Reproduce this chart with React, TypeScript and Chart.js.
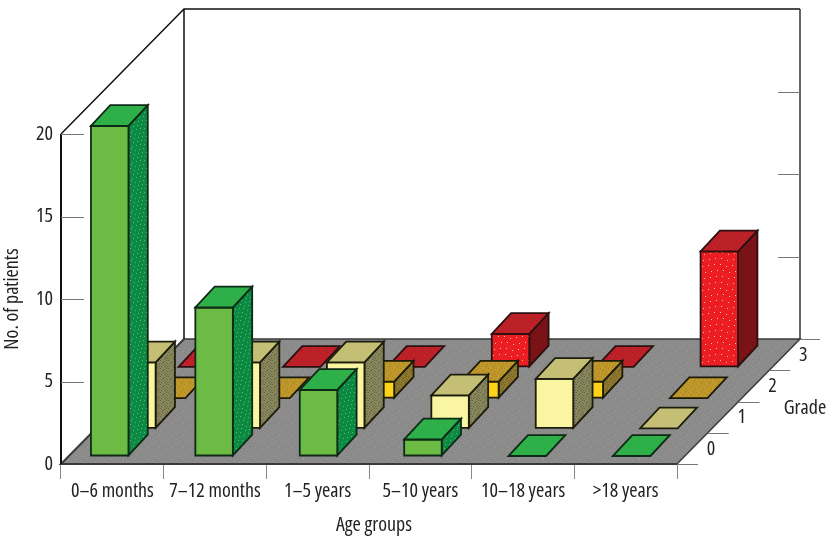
import React, { useEffect, useRef } from "react";
import { Chart, BarController, BarElement, CategoryScale, LinearScale } from "chart.js";

const AGE_GROUPS = ["0–6 months", "7–12 months", "1–5 years", "5–10 years", "10–18 years", ">18 years"];
const GRADE_TICKS = ["0", "1", "2", "3"];
const VALUE_TICKS = [0, 5, 10, 15, 20];
const GRADE_ROWS = [0, 0.93, 1.95, 3];
const GRADE_0 = [20, 9, 4, 1, 0, 0];
const GRADE_1 = [4, 4, 4, 2, 3, 0];
const GRADE_2 = [0, 0, 1, 1, 1, 0];
const GRADE_3 = [0, 0, 0, 2, 0, 7];

const FAMILY = '"Open Sans", sans-serif';
const CANVAS_FONT = `condensed 20px ${FAMILY}`;
const tickFont = { family: FAMILY, size: 20, weight: "condensed" };
const TEXT = "#222222";
const FLOOR_RISE = 125;
const FLOOR_RUN = 123;
const RUN_PER_RISE = 0.984;
const BAR_DEPTH_RUN = 0.93;
const BAR_DEPTH_GRADES = 0.7;

function speckle(base: string, dot: string, step: number) {
  const c = document.createElement("canvas");
  c.width = step * 4;
  c.height = step * 4;
  const g = c.getContext("2d")!;
  g.fillStyle = base;
  g.fillRect(0, 0, c.width, c.height);
  g.fillStyle = dot;
  for (let i = 0; i < 4; i++) {
    for (let j = 0; j < 4; j++) {
      g.fillRect(i * step + ((j * 3) % 4), j * step + ((i * 2) % 3), 1, 1);
    }
  }
  return g.createPattern(c, "repeat")!;
}

class Bar3DController extends BarController {
  static id = "bar3d";
  static defaults = { ...BarController.defaults };
  draw() {
    const chart = (this as any).chart;
    const ctx = chart.ctx;
    const meta = (this as any).getMeta();
    const ds = (this as any).getDataset();
    const gradeScale = chart.scales.grade;
    const bottom = chart.chartArea.bottom;
    const rise = bottom - gradeScale.getPixelForValue(ds.grade);
    const backRise = bottom - gradeScale.getPixelForValue(ds.grade + BAR_DEPTH_GRADES);
    const dy = backRise - rise;
    const dx = dy * BAR_DEPTH_RUN;
    const shift = rise * RUN_PER_RISE;
    const faces = ds.faces();
    ctx.save();
    ctx.lineWidth = 1.8;
    ctx.lineJoin = "miter";
    ctx.strokeStyle = ds.edge;
    const poly = (pts: number[][], fill: any) => {
      ctx.beginPath();
      pts.forEach((p, i) => (i ? ctx.lineTo(p[0], p[1]) : ctx.moveTo(p[0], p[1])));
      ctx.closePath();
      ctx.fillStyle = fill;
      ctx.fill();
      ctx.stroke();
    };
    meta.data.forEach((el: any) => {
      const l = el.x - el.width / 2 + shift;
      const r = l + el.width;
      const t = el.y - rise;
      const b = el.base - rise;
      if (b - t > 0.5) {
        poly([[r, t], [r + dx, t - dy], [r + dx, b - dy], [r, b]], faces.side);
        poly([[l, t], [r, t], [r, b], [l, b]], faces.front);
      }
      poly([[l, t], [l + dx, t - dy], [r + dx, t - dy], [r, t]], faces.top);
    });
    ctx.restore();
  }
}

const framePlugin = {
  id: "frame3d",
  beforeDatasetsDraw(chart: any) {
    const { ctx, chartArea: a, scales } = chart;
    const L = a.left, R = a.right, B = a.bottom;
    const y20 = scales.y.getPixelForValue(20);
    const topBack = y20 - FLOOR_RISE;
    ctx.save();
    // floor
    ctx.beginPath();
    ctx.moveTo(L, B);
    ctx.lineTo(R, B);
    ctx.lineTo(R + FLOOR_RUN, B - FLOOR_RISE);
    ctx.lineTo(L + FLOOR_RUN, B - FLOOR_RISE);
    ctx.closePath();
    ctx.fillStyle = speckle("#8a8a8a", "#9c9792", 3);
    ctx.fill();
    // floor edges
    ctx.strokeStyle = "#3a3a3a";
    ctx.lineWidth = 1.5;
    ctx.beginPath();
    ctx.moveTo(L + FLOOR_RUN, B - FLOOR_RISE);
    ctx.lineTo(R + FLOOR_RUN, B - FLOOR_RISE);
    ctx.lineTo(R, B);
    ctx.stroke();
    ctx.lineWidth = 2;
    ctx.beginPath();
    ctx.moveTo(R, B);
    ctx.lineTo(L, B);
    ctx.lineTo(L + FLOOR_RUN, B - FLOOR_RISE);
    ctx.stroke();
    // walls
    ctx.strokeStyle = "#111";
    ctx.lineWidth = 1.5;
    ctx.beginPath();
    ctx.moveTo(L, y20);
    ctx.lineTo(L + FLOOR_RUN, topBack);
    ctx.lineTo(R + FLOOR_RUN, topBack);
    ctx.moveTo(L + FLOOR_RUN, topBack);
    ctx.lineTo(L + FLOOR_RUN, B - FLOOR_RISE);
    ctx.stroke();
    ctx.strokeStyle = "#333";
    ctx.beginPath();
    ctx.moveTo(R + FLOOR_RUN, topBack);
    ctx.lineTo(R + FLOOR_RUN, B - FLOOR_RISE);
    ctx.stroke();
    ctx.lineWidth = 2;
    ctx.strokeStyle = "#111";
    ctx.beginPath();
    ctx.moveTo(L, y20);
    ctx.lineTo(L, B);
    ctx.stroke();
    // value ticks on the walls
    ctx.strokeStyle = "#777";
    ctx.lineWidth = 1;
    VALUE_TICKS.forEach((v) => {
      const p = Math.round(scales.y.getPixelForValue(v)) + 0.5;
      if (v > 0) {
        ctx.beginPath();
        ctx.moveTo(L, p);
        ctx.lineTo(L + 23, p);
        ctx.stroke();
      }
      const q = p - FLOOR_RISE;
      ctx.beginPath();
      if (v === 0) {
        ctx.moveTo(R + FLOOR_RUN, q);
        ctx.lineTo(R + FLOOR_RUN + 20, q);
      } else if (v < 20) {
        ctx.moveTo(R + FLOOR_RUN - 22, q);
        ctx.lineTo(R + FLOOR_RUN, q);
      }
      ctx.stroke();
    });
    // grade ticks and labels on the floor edge
    const cell = FLOOR_RISE / GRADE_TICKS.length;
    for (let i = 0; i < GRADE_TICKS.length; i++) {
      const yy = Math.round(B - cell * i) + 0.5;
      const xx = R + (cell * i * FLOOR_RUN) / FLOOR_RISE;
      ctx.beginPath();
      ctx.moveTo(xx, yy);
      ctx.lineTo(xx + 21, yy);
      ctx.stroke();
    }
    ctx.fillStyle = TEXT;
    ctx.font = CANVAS_FONT;
    ctx.textAlign = "center";
    ctx.textBaseline = "middle";
    GRADE_TICKS.forEach((t, i) => {
      ctx.fillText(t, R + 34 + (cell * i * FLOOR_RUN) / FLOOR_RISE, B - 15 - cell * i);
    });
    ctx.fillText("Grade", 805, 408);
    ctx.fillText("Age groups", 374, 525);
    ctx.restore();
  },
};

export default function App() {
  const ref = useRef<HTMLCanvasElement>(null);
  useEffect(() => {
    Chart.register(Bar3DController, BarElement, CategoryScale, LinearScale);
    const make = (values: number[], grade: number, label: string, faces: () => any, edge: string) => ({
      type: "bar3d",
      label,
      grade,
      faces,
      edge,
      xAxisID: "pos",
      yAxisID: "y",
      barThickness: 37.5,
      grouped: false,
      clip: false,
      data: values.map((y, x) => ({ x, y })),
    });
    const chart = new Chart(ref.current!, {
      type: "bar3d" as any,
      plugins: [framePlugin],
      data: {
        labels: AGE_GROUPS,
        datasets: [
          make(GRADE_0, GRADE_ROWS[0], "Grade 0", () => ({ front: "#6cbb45", top: speckle("#2fb24a", "#2aa544", 2), side: speckle("#0a8a42", "#5fb56a", 4) }), "#0e2a16"),
          make(GRADE_1, GRADE_ROWS[1], "Grade 1", () => ({ front: "#faf5a0", top: "#c4bf75", side: speckle("#87865c", "#66653f", 2) }), "#1c1c0c"),
          make(GRADE_2, GRADE_ROWS[2], "Grade 2", () => ({ front: "#ffd21a", top: speckle("#c29a2c", "#a88424", 2), side: speckle("#8f792e", "#6e5c22", 2) }), "#1c1a08"),
          make(GRADE_3, GRADE_ROWS[3], "Grade 3", () => ({ front: speckle("#ec1c24", "#d8d860", 6), top: speckle("#c1222a", "#a81c22", 2), side: speckle("#7e1418", "#661012", 2) }), "#2a1010"),
        ] as any,
      },
      options: {
        animation: false,
        responsive: false,
        layout: { padding: { left: 0, top: 134, right: 158, bottom: 0 } },
        plugins: { legend: { display: false }, tooltip: { enabled: false } },
        events: [],
        scales: {
          x: {
            type: "category",
            position: "bottom",
            offset: true,
            afterFit: (s: any) => { s.height = 75; },
            grid: { offset: true, drawOnChartArea: false, tickLength: 15, color: "#888", lineWidth: 1 },
            border: { display: false },
            ticks: { color: TEXT, font: tickFont, padding: 0, maxRotation: 0, autoSkip: false },
          },
          pos: { type: "linear", axis: "x", display: false, offset: false, min: -0.391, max: 5.509 },
          y: {
            type: "linear",
            position: "left",
            min: 0,
            max: 20,
            afterFit: (s: any) => { s.width = 61; },
            grid: { drawOnChartArea: false, drawTicks: false },
            border: { display: false },
            ticks: { stepSize: 5, color: TEXT, font: tickFont, padding: 8 },
            title: { display: true, text: "No. of patients", color: TEXT, font: tickFont, padding: 0 },
          },
          grade: { type: "linear", axis: "y", display: false, min: -0.27, max: 10.85 },
        } as any,
      } as any,
    });
    return () => chart.destroy();
  }, []);
  return (
    <div style={{ position: "absolute", left: 0, top: 0, width: 835, height: 539 }}>
      <canvas ref={ref} width={835} height={539} style={{ display: "block" }} />
    </div>
  );
}
